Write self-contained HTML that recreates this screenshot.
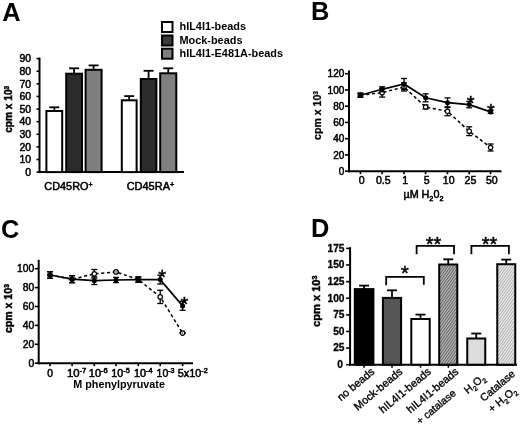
<!DOCTYPE html>
<html><head><meta charset="utf-8"><title>Figure</title>
<style>
html,body{margin:0;padding:0;background:#fff;}
body{width:520px;height:424px;overflow:hidden;font-family:"Liberation Sans",Arial,sans-serif;}
svg{display:block;will-change:transform;}
svg text{fill:#000;}
</style></head><body>
<svg width="520" height="424" viewBox="0 0 520 424" font-family="Liberation Sans, Arial, sans-serif">
<rect width="520" height="424" fill="#fff"/>
<text x="2.2" y="20.6" font-size="25.4" text-anchor="start" font-weight="bold" >A</text>
<text x="311.0" y="20.1" font-size="25.4" text-anchor="start" font-weight="bold" >B</text>
<text x="1.1" y="237.7" font-size="25.4" text-anchor="start" font-weight="bold" >C</text>
<text x="310.9" y="237.0" font-size="25.4" text-anchor="start" font-weight="bold" >D</text>
<line x1="39.5" y1="57.6" x2="39.5" y2="173.1" stroke="#000" stroke-width="2" />
<line x1="38.5" y1="172.1" x2="184" y2="172.1" stroke="#000" stroke-width="2" />
<line x1="36.5" y1="172.1" x2="39.5" y2="172.1" stroke="#000" stroke-width="1.6" />
<text x="31.2" y="175.9" font-size="10.5" text-anchor="end" stroke="#000" stroke-width="0.5">0</text>
<line x1="36.5" y1="159.49" x2="39.5" y2="159.49" stroke="#000" stroke-width="1.6" />
<text x="31.2" y="163.29000000000002" font-size="10.5" text-anchor="end" stroke="#000" stroke-width="0.5">10</text>
<line x1="36.5" y1="146.88" x2="39.5" y2="146.88" stroke="#000" stroke-width="1.6" />
<text x="31.2" y="150.68" font-size="10.5" text-anchor="end" stroke="#000" stroke-width="0.5">20</text>
<line x1="36.5" y1="134.26999999999998" x2="39.5" y2="134.26999999999998" stroke="#000" stroke-width="1.6" />
<text x="31.2" y="138.07" font-size="10.5" text-anchor="end" stroke="#000" stroke-width="0.5">30</text>
<line x1="36.5" y1="121.66" x2="39.5" y2="121.66" stroke="#000" stroke-width="1.6" />
<text x="31.2" y="125.46" font-size="10.5" text-anchor="end" stroke="#000" stroke-width="0.5">40</text>
<line x1="36.5" y1="109.05" x2="39.5" y2="109.05" stroke="#000" stroke-width="1.6" />
<text x="31.2" y="112.85" font-size="10.5" text-anchor="end" stroke="#000" stroke-width="0.5">50</text>
<line x1="36.5" y1="96.44" x2="39.5" y2="96.44" stroke="#000" stroke-width="1.6" />
<text x="31.2" y="100.24" font-size="10.5" text-anchor="end" stroke="#000" stroke-width="0.5">60</text>
<line x1="36.5" y1="83.83" x2="39.5" y2="83.83" stroke="#000" stroke-width="1.6" />
<text x="31.2" y="87.63" font-size="10.5" text-anchor="end" stroke="#000" stroke-width="0.5">70</text>
<line x1="36.5" y1="71.22" x2="39.5" y2="71.22" stroke="#000" stroke-width="1.6" />
<text x="31.2" y="75.02" font-size="10.5" text-anchor="end" stroke="#000" stroke-width="0.5">80</text>
<line x1="36.5" y1="58.61" x2="39.5" y2="58.61" stroke="#000" stroke-width="1.6" />
<text x="31.2" y="62.41" font-size="10.5" text-anchor="end" stroke="#000" stroke-width="0.5">90</text>
<text x="12.3" y="132.8" font-size="11" text-anchor="start" font-weight="bold" textLength="47" lengthAdjust="spacingAndGlyphs" transform="rotate(-90 12.3 132.8)" stroke="#000" stroke-width="0.45">cpm x 10<tspan font-size="7" dy="-3.5">3</tspan></text>
<line x1="54.3" y1="107.3" x2="54.3" y2="111.0" stroke="#000" stroke-width="1.8" />
<line x1="49.3" y1="107.3" x2="59.3" y2="107.3" stroke="#000" stroke-width="1.8" />
<rect x="46.4" y="111.0" width="15.800000000000004" height="61.099999999999994" fill="#fff" stroke="#000" stroke-width="2"/>
<line x1="74.1" y1="68.3" x2="74.1" y2="73.7" stroke="#000" stroke-width="1.8" />
<line x1="69.1" y1="68.3" x2="79.1" y2="68.3" stroke="#000" stroke-width="1.8" />
<rect x="66.2" y="73.7" width="15.799999999999997" height="98.39999999999999" fill="#2b2b2b" stroke="#000" stroke-width="2"/>
<line x1="93.6" y1="65.4" x2="93.6" y2="69.8" stroke="#000" stroke-width="1.8" />
<line x1="88.6" y1="65.4" x2="98.6" y2="65.4" stroke="#000" stroke-width="1.8" />
<rect x="85.6" y="69.8" width="16.0" height="102.3" fill="#7f7f7f" stroke="#000" stroke-width="2"/>
<line x1="129.2" y1="96.1" x2="129.2" y2="100.3" stroke="#000" stroke-width="1.8" />
<line x1="124.19999999999999" y1="96.1" x2="134.2" y2="96.1" stroke="#000" stroke-width="1.8" />
<rect x="121.8" y="100.3" width="14.799999999999997" height="71.8" fill="#fff" stroke="#000" stroke-width="2"/>
<line x1="148.60000000000002" y1="70.8" x2="148.60000000000002" y2="79.0" stroke="#000" stroke-width="1.8" />
<line x1="143.60000000000002" y1="70.8" x2="153.60000000000002" y2="70.8" stroke="#000" stroke-width="1.8" />
<rect x="140.8" y="79.0" width="15.599999999999994" height="93.1" fill="#2b2b2b" stroke="#000" stroke-width="2"/>
<line x1="168.25" y1="68.3" x2="168.25" y2="73.3" stroke="#000" stroke-width="1.8" />
<line x1="163.25" y1="68.3" x2="173.25" y2="68.3" stroke="#000" stroke-width="1.8" />
<rect x="160.2" y="73.3" width="16.100000000000023" height="98.8" fill="#7f7f7f" stroke="#000" stroke-width="2"/>
<text x="44.3" y="190.2" font-size="10.6" text-anchor="start" textLength="48.4" lengthAdjust="spacingAndGlyphs" stroke="#000" stroke-width="0.5">CD45RO<tspan font-size="7" dy="-3">+</tspan></text>
<text x="126.7" y="190.2" font-size="10.6" text-anchor="start" textLength="47.5" lengthAdjust="spacingAndGlyphs" stroke="#000" stroke-width="0.5">CD45RA<tspan font-size="7" dy="-3">+</tspan></text>
<rect x="162" y="22" width="10.5" height="10" fill="#fff" stroke="#000" stroke-width="2"/>
<rect x="162" y="35.5" width="10.5" height="10" fill="#3a3a3a" stroke="#000" stroke-width="2"/>
<rect x="162" y="48.7" width="10.5" height="10" fill="#7f7f7f" stroke="#000" stroke-width="2"/>
<text x="179.5" y="30.3" font-size="10.9" text-anchor="start" font-weight="bold" >hIL4I1-beads</text>
<text x="179.5" y="43.6" font-size="10.9" text-anchor="start" font-weight="bold" >Mock-beads</text>
<text x="179.5" y="56.8" font-size="10.9" text-anchor="start" font-weight="bold" >hIL4I1-E481A-beads</text>
<line x1="349" y1="70.5" x2="349" y2="172.2" stroke="#000" stroke-width="2" />
<line x1="348" y1="171.2" x2="501.5" y2="171.2" stroke="#000" stroke-width="2" />
<line x1="345" y1="171.2" x2="349" y2="171.2" stroke="#000" stroke-width="1.6" />
<text x="344.3" y="174.79999999999998" font-size="10" text-anchor="end" stroke="#000" stroke-width="0.5">0</text>
<line x1="345" y1="154.95" x2="349" y2="154.95" stroke="#000" stroke-width="1.6" />
<text x="344.3" y="158.54999999999998" font-size="10" text-anchor="end" stroke="#000" stroke-width="0.5">20</text>
<line x1="345" y1="138.7" x2="349" y2="138.7" stroke="#000" stroke-width="1.6" />
<text x="344.3" y="142.29999999999998" font-size="10" text-anchor="end" stroke="#000" stroke-width="0.5">40</text>
<line x1="345" y1="122.44999999999999" x2="349" y2="122.44999999999999" stroke="#000" stroke-width="1.6" />
<text x="344.3" y="126.04999999999998" font-size="10" text-anchor="end" stroke="#000" stroke-width="0.5">60</text>
<line x1="345" y1="106.19999999999999" x2="349" y2="106.19999999999999" stroke="#000" stroke-width="1.6" />
<text x="344.3" y="109.79999999999998" font-size="10" text-anchor="end" stroke="#000" stroke-width="0.5">80</text>
<line x1="345" y1="89.94999999999999" x2="349" y2="89.94999999999999" stroke="#000" stroke-width="1.6" />
<text x="344.3" y="93.54999999999998" font-size="10" text-anchor="end" stroke="#000" stroke-width="0.5">100</text>
<line x1="345" y1="73.69999999999999" x2="349" y2="73.69999999999999" stroke="#000" stroke-width="1.6" />
<text x="344.3" y="77.29999999999998" font-size="10" text-anchor="end" stroke="#000" stroke-width="0.5">120</text>
<text x="321.4" y="139.9" font-size="11" text-anchor="start" font-weight="bold" textLength="49" lengthAdjust="spacingAndGlyphs" transform="rotate(-90 321.4 139.9)" stroke="#000" stroke-width="0.25">cpm x 10<tspan font-size="7" dy="-3.5">3</tspan></text>
<line x1="360.4" y1="171.2" x2="360.4" y2="174.2" stroke="#000" stroke-width="1.6" />
<line x1="382.1" y1="171.2" x2="382.1" y2="174.2" stroke="#000" stroke-width="1.6" />
<line x1="404.0" y1="171.2" x2="404.0" y2="174.2" stroke="#000" stroke-width="1.6" />
<line x1="425.6" y1="171.2" x2="425.6" y2="174.2" stroke="#000" stroke-width="1.6" />
<line x1="447.5" y1="171.2" x2="447.5" y2="174.2" stroke="#000" stroke-width="1.6" />
<line x1="469.2" y1="171.2" x2="469.2" y2="174.2" stroke="#000" stroke-width="1.6" />
<line x1="490.6" y1="171.2" x2="490.6" y2="174.2" stroke="#000" stroke-width="1.6" />
<text x="361.59999999999997" y="184.3" font-size="10.6" text-anchor="middle" stroke="#000" stroke-width="0.5">0</text>
<text x="383.3" y="184.3" font-size="10.6" text-anchor="middle" stroke="#000" stroke-width="0.5">0.5</text>
<text x="405.2" y="184.3" font-size="10.6" text-anchor="middle" stroke="#000" stroke-width="0.5">1</text>
<text x="426.8" y="184.3" font-size="10.6" text-anchor="middle" stroke="#000" stroke-width="0.5">5</text>
<text x="448.7" y="184.3" font-size="10.6" text-anchor="middle" stroke="#000" stroke-width="0.5">10</text>
<text x="470.4" y="184.3" font-size="10.6" text-anchor="middle" stroke="#000" stroke-width="0.5">25</text>
<text x="491.8" y="184.3" font-size="10.6" text-anchor="middle" stroke="#000" stroke-width="0.5">50</text>
<text x="403.5" y="197.5" font-size="10.3" text-anchor="start" textLength="40" lengthAdjust="spacingAndGlyphs" stroke="#000" stroke-width="0.5">µM H<tspan font-size="7" dy="3">2</tspan><tspan dy="-3">0</tspan><tspan font-size="7" dy="3">2</tspan></text>
<polyline points="360.4,95.2 382.1,92.7 404.0,87.0 425.6,107.0 447.5,111.3 469.2,131.2 490.6,147.5" fill="none" stroke="#000" stroke-width="1.5" stroke-dasharray="3.2,2.6"/>
<line x1="360.4" y1="93.2" x2="360.4" y2="97.2" stroke="#000" stroke-width="1.3" />
<line x1="357.4" y1="93.2" x2="363.4" y2="93.2" stroke="#000" stroke-width="1.3" />
<line x1="357.4" y1="97.2" x2="363.4" y2="97.2" stroke="#000" stroke-width="1.3" />
<circle cx="360.4" cy="95.2" r="2.2" fill="#fff" stroke="#000" stroke-width="1.2"/>
<line x1="382.1" y1="88.3" x2="382.1" y2="97.10000000000001" stroke="#000" stroke-width="1.3" />
<line x1="379.1" y1="88.3" x2="385.1" y2="88.3" stroke="#000" stroke-width="1.3" />
<line x1="379.1" y1="97.10000000000001" x2="385.1" y2="97.10000000000001" stroke="#000" stroke-width="1.3" />
<circle cx="382.1" cy="92.7" r="2.2" fill="#fff" stroke="#000" stroke-width="1.2"/>
<line x1="404.0" y1="83.0" x2="404.0" y2="91.0" stroke="#000" stroke-width="1.3" />
<line x1="401.0" y1="83.0" x2="407.0" y2="83.0" stroke="#000" stroke-width="1.3" />
<line x1="401.0" y1="91.0" x2="407.0" y2="91.0" stroke="#000" stroke-width="1.3" />
<circle cx="404.0" cy="87.0" r="2.2" fill="#fff" stroke="#000" stroke-width="1.2"/>
<line x1="425.6" y1="105.0" x2="425.6" y2="109.0" stroke="#000" stroke-width="1.3" />
<line x1="422.6" y1="105.0" x2="428.6" y2="105.0" stroke="#000" stroke-width="1.3" />
<line x1="422.6" y1="109.0" x2="428.6" y2="109.0" stroke="#000" stroke-width="1.3" />
<circle cx="425.6" cy="107.0" r="2.2" fill="#fff" stroke="#000" stroke-width="1.2"/>
<line x1="447.5" y1="106.89999999999999" x2="447.5" y2="115.7" stroke="#000" stroke-width="1.3" />
<line x1="444.5" y1="106.89999999999999" x2="450.5" y2="106.89999999999999" stroke="#000" stroke-width="1.3" />
<line x1="444.5" y1="115.7" x2="450.5" y2="115.7" stroke="#000" stroke-width="1.3" />
<circle cx="447.5" cy="111.3" r="2.2" fill="#fff" stroke="#000" stroke-width="1.2"/>
<line x1="469.2" y1="126.79999999999998" x2="469.2" y2="135.6" stroke="#000" stroke-width="1.3" />
<line x1="466.2" y1="126.79999999999998" x2="472.2" y2="126.79999999999998" stroke="#000" stroke-width="1.3" />
<line x1="466.2" y1="135.6" x2="472.2" y2="135.6" stroke="#000" stroke-width="1.3" />
<circle cx="469.2" cy="131.2" r="2.2" fill="#fff" stroke="#000" stroke-width="1.2"/>
<line x1="490.6" y1="144.0" x2="490.6" y2="151.0" stroke="#000" stroke-width="1.3" />
<line x1="487.6" y1="144.0" x2="493.6" y2="144.0" stroke="#000" stroke-width="1.3" />
<line x1="487.6" y1="151.0" x2="493.6" y2="151.0" stroke="#000" stroke-width="1.3" />
<circle cx="490.6" cy="147.5" r="2.2" fill="#fff" stroke="#000" stroke-width="1.2"/>
<polyline points="360.4,95.2 382.1,89.3 404.0,84.0 425.6,97.8 447.5,102.7 469.2,104.6 490.6,111.9" fill="none" stroke="#000" stroke-width="1.7" />
<line x1="360.4" y1="93.2" x2="360.4" y2="97.2" stroke="#000" stroke-width="1.3" />
<line x1="357.4" y1="93.2" x2="363.4" y2="93.2" stroke="#000" stroke-width="1.3" />
<line x1="357.4" y1="97.2" x2="363.4" y2="97.2" stroke="#000" stroke-width="1.3" />
<circle cx="360.4" cy="95.2" r="2.5" fill="#000"/>
<line x1="382.1" y1="86.8" x2="382.1" y2="91.8" stroke="#000" stroke-width="1.3" />
<line x1="379.1" y1="86.8" x2="385.1" y2="86.8" stroke="#000" stroke-width="1.3" />
<line x1="379.1" y1="91.8" x2="385.1" y2="91.8" stroke="#000" stroke-width="1.3" />
<circle cx="382.1" cy="89.3" r="2.5" fill="#000"/>
<line x1="404.0" y1="78.5" x2="404.0" y2="89.5" stroke="#000" stroke-width="1.3" />
<line x1="401.0" y1="78.5" x2="407.0" y2="78.5" stroke="#000" stroke-width="1.3" />
<line x1="401.0" y1="89.5" x2="407.0" y2="89.5" stroke="#000" stroke-width="1.3" />
<circle cx="404.0" cy="84.0" r="2.5" fill="#000"/>
<line x1="425.6" y1="93.8" x2="425.6" y2="101.8" stroke="#000" stroke-width="1.3" />
<line x1="422.6" y1="93.8" x2="428.6" y2="93.8" stroke="#000" stroke-width="1.3" />
<line x1="422.6" y1="101.8" x2="428.6" y2="101.8" stroke="#000" stroke-width="1.3" />
<circle cx="425.6" cy="97.8" r="2.5" fill="#000"/>
<line x1="447.5" y1="97.9" x2="447.5" y2="107.5" stroke="#000" stroke-width="1.3" />
<line x1="444.5" y1="97.9" x2="450.5" y2="97.9" stroke="#000" stroke-width="1.3" />
<line x1="444.5" y1="107.5" x2="450.5" y2="107.5" stroke="#000" stroke-width="1.3" />
<circle cx="447.5" cy="102.7" r="2.5" fill="#000"/>
<line x1="469.2" y1="101.39999999999999" x2="469.2" y2="107.8" stroke="#000" stroke-width="1.3" />
<line x1="466.2" y1="101.39999999999999" x2="472.2" y2="101.39999999999999" stroke="#000" stroke-width="1.3" />
<line x1="466.2" y1="107.8" x2="472.2" y2="107.8" stroke="#000" stroke-width="1.3" />
<circle cx="469.2" cy="104.6" r="2.5" fill="#000"/>
<line x1="490.6" y1="110.4" x2="490.6" y2="113.4" stroke="#000" stroke-width="1.3" />
<line x1="487.6" y1="110.4" x2="493.6" y2="110.4" stroke="#000" stroke-width="1.3" />
<line x1="487.6" y1="113.4" x2="493.6" y2="113.4" stroke="#000" stroke-width="1.3" />
<circle cx="490.6" cy="111.9" r="2.5" fill="#000"/>
<text x="470.6" y="110.3" font-size="20" text-anchor="middle" stroke="#000" stroke-width="0.45">*</text>
<text x="491.0" y="118.2" font-size="20" text-anchor="middle" stroke="#000" stroke-width="0.45">*</text>
<line x1="38.7" y1="259.8" x2="38.7" y2="364.2" stroke="#000" stroke-width="2" />
<line x1="37.7" y1="363.2" x2="193" y2="363.2" stroke="#000" stroke-width="2" />
<line x1="34.7" y1="363.2" x2="38.7" y2="363.2" stroke="#000" stroke-width="1.6" />
<text x="34.3" y="366.8" font-size="10.3" text-anchor="end" stroke="#000" stroke-width="0.5">0</text>
<line x1="34.7" y1="344.3" x2="38.7" y2="344.3" stroke="#000" stroke-width="1.6" />
<text x="34.3" y="347.90000000000003" font-size="10.3" text-anchor="end" stroke="#000" stroke-width="0.5">20</text>
<line x1="34.7" y1="325.4" x2="38.7" y2="325.4" stroke="#000" stroke-width="1.6" />
<text x="34.3" y="329.0" font-size="10.3" text-anchor="end" stroke="#000" stroke-width="0.5">40</text>
<line x1="34.7" y1="306.5" x2="38.7" y2="306.5" stroke="#000" stroke-width="1.6" />
<text x="34.3" y="310.1" font-size="10.3" text-anchor="end" stroke="#000" stroke-width="0.5">60</text>
<line x1="34.7" y1="287.6" x2="38.7" y2="287.6" stroke="#000" stroke-width="1.6" />
<text x="34.3" y="291.20000000000005" font-size="10.3" text-anchor="end" stroke="#000" stroke-width="0.5">80</text>
<line x1="34.7" y1="268.7" x2="38.7" y2="268.7" stroke="#000" stroke-width="1.6" />
<text x="34.3" y="272.3" font-size="10.3" text-anchor="end" stroke="#000" stroke-width="0.5">100</text>
<text x="12.2" y="333.1" font-size="11" text-anchor="start" font-weight="bold" textLength="49" lengthAdjust="spacingAndGlyphs" transform="rotate(-90 12.2 333.1)" stroke="#000" stroke-width="0.45">cpm x 10<tspan font-size="7" dy="-3.5">3</tspan></text>
<line x1="50" y1="363.2" x2="50" y2="366.2" stroke="#000" stroke-width="1.6" />
<line x1="72.1" y1="363.2" x2="72.1" y2="366.2" stroke="#000" stroke-width="1.6" />
<line x1="94.3" y1="363.2" x2="94.3" y2="366.2" stroke="#000" stroke-width="1.6" />
<line x1="116.0" y1="363.2" x2="116.0" y2="366.2" stroke="#000" stroke-width="1.6" />
<line x1="138.3" y1="363.2" x2="138.3" y2="366.2" stroke="#000" stroke-width="1.6" />
<line x1="160.2" y1="363.2" x2="160.2" y2="366.2" stroke="#000" stroke-width="1.6" />
<line x1="182.6" y1="363.2" x2="182.6" y2="366.2" stroke="#000" stroke-width="1.6" />
<text x="50.2" y="376.8" font-size="10.3" text-anchor="middle" stroke="#000" stroke-width="0.5">0</text>
<text x="66.9" y="376.8" font-size="10.3" text-anchor="start" textLength="19.4" lengthAdjust="spacingAndGlyphs" stroke="#000" stroke-width="0.5">10<tspan font-size="7" dy="-3.5">-7</tspan></text>
<text x="88.8" y="376.8" font-size="10.3" text-anchor="start" textLength="19.0" lengthAdjust="spacingAndGlyphs" stroke="#000" stroke-width="0.5">10<tspan font-size="7" dy="-3.5">-6</tspan></text>
<text x="111.3" y="376.8" font-size="10.3" text-anchor="start" textLength="18.4" lengthAdjust="spacingAndGlyphs" stroke="#000" stroke-width="0.5">10<tspan font-size="7" dy="-3.5">-5</tspan></text>
<text x="133.9" y="376.8" font-size="10.3" text-anchor="start" textLength="18.7" lengthAdjust="spacingAndGlyphs" stroke="#000" stroke-width="0.5">10<tspan font-size="7" dy="-3.5">-4</tspan></text>
<text x="156.6" y="376.8" font-size="10.3" text-anchor="start" textLength="18.0" lengthAdjust="spacingAndGlyphs" stroke="#000" stroke-width="0.5">10<tspan font-size="7" dy="-3.5">-3</tspan></text>
<text x="177.8" y="376.8" font-size="10.3" text-anchor="start" textLength="30" lengthAdjust="spacingAndGlyphs" stroke="#000" stroke-width="0.5">5x10<tspan font-size="7" dy="-3.5">-2</tspan></text>
<text x="73.3" y="388.2" font-size="10.8" text-anchor="start" font-weight="bold" textLength="91.6" lengthAdjust="spacingAndGlyphs" >M phenylpyruvate</text>
<polyline points="50,275.0 72.1,279.2 94.3,273.8 116.0,271.9 138.3,279.6 160.2,296.9 182.6,333.1" fill="none" stroke="#000" stroke-width="1.5" stroke-dasharray="3.2,2.6"/>
<line x1="50" y1="271.7" x2="50" y2="278.3" stroke="#000" stroke-width="1.3" />
<line x1="47" y1="271.7" x2="53" y2="271.7" stroke="#000" stroke-width="1.3" />
<line x1="47" y1="278.3" x2="53" y2="278.3" stroke="#000" stroke-width="1.3" />
<circle cx="50" cy="275.0" r="2.2" fill="#fff" stroke="#000" stroke-width="1.2"/>
<line x1="72.1" y1="275.7" x2="72.1" y2="282.7" stroke="#000" stroke-width="1.3" />
<line x1="69.1" y1="275.7" x2="75.1" y2="275.7" stroke="#000" stroke-width="1.3" />
<line x1="69.1" y1="282.7" x2="75.1" y2="282.7" stroke="#000" stroke-width="1.3" />
<circle cx="72.1" cy="279.2" r="2.2" fill="#fff" stroke="#000" stroke-width="1.2"/>
<line x1="94.3" y1="269.5" x2="94.3" y2="278.1" stroke="#000" stroke-width="1.3" />
<line x1="91.3" y1="269.5" x2="97.3" y2="269.5" stroke="#000" stroke-width="1.3" />
<line x1="91.3" y1="278.1" x2="97.3" y2="278.1" stroke="#000" stroke-width="1.3" />
<circle cx="94.3" cy="273.8" r="2.2" fill="#fff" stroke="#000" stroke-width="1.2"/>
<line x1="116.0" y1="271.9" x2="116.0" y2="271.9" stroke="#000" stroke-width="1.3" />
<line x1="113.0" y1="271.9" x2="119.0" y2="271.9" stroke="#000" stroke-width="1.3" />
<line x1="113.0" y1="271.9" x2="119.0" y2="271.9" stroke="#000" stroke-width="1.3" />
<circle cx="116.0" cy="271.9" r="2.2" fill="#fff" stroke="#000" stroke-width="1.2"/>
<line x1="138.3" y1="276.90000000000003" x2="138.3" y2="282.3" stroke="#000" stroke-width="1.3" />
<line x1="135.3" y1="276.90000000000003" x2="141.3" y2="276.90000000000003" stroke="#000" stroke-width="1.3" />
<line x1="135.3" y1="282.3" x2="141.3" y2="282.3" stroke="#000" stroke-width="1.3" />
<circle cx="138.3" cy="279.6" r="2.2" fill="#fff" stroke="#000" stroke-width="1.2"/>
<line x1="160.2" y1="290.29999999999995" x2="160.2" y2="303.5" stroke="#000" stroke-width="1.3" />
<line x1="157.2" y1="290.29999999999995" x2="163.2" y2="290.29999999999995" stroke="#000" stroke-width="1.3" />
<line x1="157.2" y1="303.5" x2="163.2" y2="303.5" stroke="#000" stroke-width="1.3" />
<circle cx="160.2" cy="296.9" r="2.2" fill="#fff" stroke="#000" stroke-width="1.2"/>
<line x1="182.6" y1="333.1" x2="182.6" y2="333.1" stroke="#000" stroke-width="1.3" />
<line x1="179.6" y1="333.1" x2="185.6" y2="333.1" stroke="#000" stroke-width="1.3" />
<line x1="179.6" y1="333.1" x2="185.6" y2="333.1" stroke="#000" stroke-width="1.3" />
<circle cx="182.6" cy="333.1" r="2.2" fill="#fff" stroke="#000" stroke-width="1.2"/>
<polyline points="50,275.0 72.1,279.2 94.3,280.7 116.0,280.0 138.3,279.6 160.2,279.6 182.6,305.9" fill="none" stroke="#000" stroke-width="1.7" />
<line x1="50" y1="271.7" x2="50" y2="278.3" stroke="#000" stroke-width="1.3" />
<line x1="47" y1="271.7" x2="53" y2="271.7" stroke="#000" stroke-width="1.3" />
<line x1="47" y1="278.3" x2="53" y2="278.3" stroke="#000" stroke-width="1.3" />
<circle cx="50" cy="275.0" r="2.5" fill="#000"/>
<line x1="72.1" y1="275.7" x2="72.1" y2="282.7" stroke="#000" stroke-width="1.3" />
<line x1="69.1" y1="275.7" x2="75.1" y2="275.7" stroke="#000" stroke-width="1.3" />
<line x1="69.1" y1="282.7" x2="75.1" y2="282.7" stroke="#000" stroke-width="1.3" />
<circle cx="72.1" cy="279.2" r="2.5" fill="#000"/>
<line x1="94.3" y1="276.9" x2="94.3" y2="284.5" stroke="#000" stroke-width="1.3" />
<line x1="91.3" y1="276.9" x2="97.3" y2="276.9" stroke="#000" stroke-width="1.3" />
<line x1="91.3" y1="284.5" x2="97.3" y2="284.5" stroke="#000" stroke-width="1.3" />
<circle cx="94.3" cy="280.7" r="2.5" fill="#000"/>
<line x1="116.0" y1="277.4" x2="116.0" y2="282.6" stroke="#000" stroke-width="1.3" />
<line x1="113.0" y1="277.4" x2="119.0" y2="277.4" stroke="#000" stroke-width="1.3" />
<line x1="113.0" y1="282.6" x2="119.0" y2="282.6" stroke="#000" stroke-width="1.3" />
<circle cx="116.0" cy="280.0" r="2.5" fill="#000"/>
<line x1="138.3" y1="276.90000000000003" x2="138.3" y2="282.3" stroke="#000" stroke-width="1.3" />
<line x1="135.3" y1="276.90000000000003" x2="141.3" y2="276.90000000000003" stroke="#000" stroke-width="1.3" />
<line x1="135.3" y1="282.3" x2="141.3" y2="282.3" stroke="#000" stroke-width="1.3" />
<circle cx="138.3" cy="279.6" r="2.5" fill="#000"/>
<line x1="160.2" y1="275.20000000000005" x2="160.2" y2="284.0" stroke="#000" stroke-width="1.3" />
<line x1="157.2" y1="275.20000000000005" x2="163.2" y2="275.20000000000005" stroke="#000" stroke-width="1.3" />
<line x1="157.2" y1="284.0" x2="163.2" y2="284.0" stroke="#000" stroke-width="1.3" />
<circle cx="160.2" cy="279.6" r="2.5" fill="#000"/>
<line x1="182.6" y1="301.5" x2="182.6" y2="310.29999999999995" stroke="#000" stroke-width="1.3" />
<line x1="179.6" y1="301.5" x2="185.6" y2="301.5" stroke="#000" stroke-width="1.3" />
<line x1="179.6" y1="310.29999999999995" x2="185.6" y2="310.29999999999995" stroke="#000" stroke-width="1.3" />
<circle cx="182.6" cy="305.9" r="2.5" fill="#000"/>
<circle cx="116.0" cy="271.9" r="0.7" fill="#000"/><circle cx="182.6" cy="333.1" r="0.7" fill="#000"/>
<text x="162.2" y="284.2" font-size="20" text-anchor="middle" stroke="#000" stroke-width="0.45">*</text>
<text x="184.4" y="310.9" font-size="20" text-anchor="middle" stroke="#000" stroke-width="0.45">*</text>
<defs>
<pattern id="h1" width="2.2" height="2.2" patternUnits="userSpaceOnUse" patternTransform="rotate(-55)"><rect width="2.2" height="2.2" fill="#c0c0c0"/><rect width="2.2" height="1.0" fill="#5a5a5a"/></pattern>
<pattern id="h2" width="2.2" height="2.2" patternUnits="userSpaceOnUse" patternTransform="rotate(-55)"><rect width="2.2" height="2.2" fill="#ececec"/><rect width="2.2" height="0.9" fill="#aaa"/></pattern>
</defs>
<line x1="350.1" y1="247.2" x2="350.1" y2="365.7" stroke="#000" stroke-width="2" />
<line x1="349.1" y1="364.7" x2="517" y2="364.7" stroke="#000" stroke-width="2" />
<line x1="346.1" y1="364.7" x2="350.1" y2="364.7" stroke="#000" stroke-width="1.6" />
<text x="342.8" y="368.09999999999997" font-size="10.2" text-anchor="end" font-weight="bold" stroke="#000" stroke-width="0.3">0</text>
<line x1="346.1" y1="348.085" x2="350.1" y2="348.085" stroke="#000" stroke-width="1.6" />
<text x="344.5" y="351.48499999999996" font-size="10.2" text-anchor="end" font-weight="bold" stroke="#000" stroke-width="0.3">25</text>
<line x1="346.1" y1="331.46999999999997" x2="350.1" y2="331.46999999999997" stroke="#000" stroke-width="1.6" />
<text x="344.5" y="334.86999999999995" font-size="10.2" text-anchor="end" font-weight="bold" stroke="#000" stroke-width="0.3">50</text>
<line x1="346.1" y1="314.855" x2="350.1" y2="314.855" stroke="#000" stroke-width="1.6" />
<text x="344.5" y="318.255" font-size="10.2" text-anchor="end" font-weight="bold" stroke="#000" stroke-width="0.3">75</text>
<line x1="346.1" y1="298.24" x2="350.1" y2="298.24" stroke="#000" stroke-width="1.6" />
<text x="344.5" y="301.64" font-size="10.2" text-anchor="end" font-weight="bold" stroke="#000" stroke-width="0.3">100</text>
<line x1="346.1" y1="281.625" x2="350.1" y2="281.625" stroke="#000" stroke-width="1.6" />
<text x="344.5" y="285.025" font-size="10.2" text-anchor="end" font-weight="bold" stroke="#000" stroke-width="0.3">125</text>
<line x1="346.1" y1="265.01" x2="350.1" y2="265.01" stroke="#000" stroke-width="1.6" />
<text x="344.5" y="268.40999999999997" font-size="10.2" text-anchor="end" font-weight="bold" stroke="#000" stroke-width="0.3">150</text>
<line x1="346.1" y1="248.39499999999998" x2="350.1" y2="248.39499999999998" stroke="#000" stroke-width="1.6" />
<text x="344.5" y="251.795" font-size="10.2" text-anchor="end" font-weight="bold" stroke="#000" stroke-width="0.3">175</text>
<text x="320.2" y="327.0" font-size="11" text-anchor="start" font-weight="bold" textLength="51.5" lengthAdjust="spacingAndGlyphs" transform="rotate(-90 320.2 327.0)" stroke="#000" stroke-width="0.45">cpm x 10<tspan font-size="7" dy="-3.5">3</tspan></text>
<line x1="364.1" y1="364.7" x2="364.1" y2="367.7" stroke="#000" stroke-width="1.6" />
<line x1="392.0" y1="364.7" x2="392.0" y2="367.7" stroke="#000" stroke-width="1.6" />
<line x1="420.5" y1="364.7" x2="420.5" y2="367.7" stroke="#000" stroke-width="1.6" />
<line x1="448.4" y1="364.7" x2="448.4" y2="367.7" stroke="#000" stroke-width="1.6" />
<line x1="364.1" y1="285.6" x2="364.1" y2="289.1" stroke="#000" stroke-width="1.8" />
<line x1="359.1" y1="285.6" x2="369.1" y2="285.6" stroke="#000" stroke-width="1.8" />
<rect x="354.8" y="289.1" width="18.599999999999966" height="75.59999999999997" fill="#000" stroke="#000" stroke-width="2"/>
<line x1="392.0" y1="290.3" x2="392.0" y2="297.9" stroke="#000" stroke-width="1.8" />
<line x1="387.0" y1="290.3" x2="397.0" y2="290.3" stroke="#000" stroke-width="1.8" />
<rect x="382.9" y="297.9" width="18.200000000000045" height="66.80000000000001" fill="#555" stroke="#000" stroke-width="2"/>
<line x1="420.5" y1="314.6" x2="420.5" y2="319.0" stroke="#000" stroke-width="1.8" />
<line x1="415.5" y1="314.6" x2="425.5" y2="314.6" stroke="#000" stroke-width="1.8" />
<rect x="411.3" y="319.0" width="18.399999999999977" height="45.69999999999999" fill="#fff" stroke="#000" stroke-width="2"/>
<line x1="448.25" y1="259.3" x2="448.25" y2="264.5" stroke="#000" stroke-width="1.8" />
<line x1="443.25" y1="259.3" x2="453.25" y2="259.3" stroke="#000" stroke-width="1.8" />
<rect x="439.2" y="264.5" width="18.100000000000023" height="100.19999999999999" fill="url(#h1)" stroke="#000" stroke-width="2"/>
<line x1="476.25" y1="333.5" x2="476.25" y2="338.5" stroke="#000" stroke-width="1.8" />
<line x1="471.25" y1="333.5" x2="481.25" y2="333.5" stroke="#000" stroke-width="1.8" />
<rect x="467.25" y="338.5" width="18.0" height="26.19999999999999" fill="#dcdcdc" stroke="#000" stroke-width="2"/>
<line x1="506.25" y1="259.6" x2="506.25" y2="264.2" stroke="#000" stroke-width="1.8" />
<line x1="501.25" y1="259.6" x2="511.25" y2="259.6" stroke="#000" stroke-width="1.8" />
<rect x="497.25" y="264.2" width="18.0" height="100.5" fill="url(#h2)" stroke="#000" stroke-width="2"/>
<polyline points="386.2,285.2 386.2,276.8 423.8,276.8 423.8,284.8" fill="none" stroke="#000" stroke-width="1.8"/>
<polyline points="416.6,254.2 416.6,245.8 454.0,245.8 454.0,254.2" fill="none" stroke="#000" stroke-width="1.8"/>
<polyline points="471.4,254.2 471.4,245.8 508.9,245.8 508.9,254.2" fill="none" stroke="#000" stroke-width="1.8"/>
<text x="404.8" y="279.5" font-size="20" text-anchor="middle" stroke="#000" stroke-width="0.45">*</text>
<text x="433.5" y="250.6" font-size="20" text-anchor="middle" stroke="#000" stroke-width="0.45">**</text>
<text x="489.6" y="250.6" font-size="20" text-anchor="middle" stroke="#000" stroke-width="0.45">**</text>
<text x="375.3" y="372.8" font-size="10.9" text-anchor="end" transform="rotate(-40 375.3 372.8)" stroke="#000" stroke-width="0.35">no beads</text>
<text x="403.3" y="372.8" font-size="10.9" text-anchor="end" transform="rotate(-40 403.3 372.8)" stroke="#000" stroke-width="0.35">Mock-beads</text>
<text x="431.8" y="372.8" font-size="10.9" text-anchor="end" transform="rotate(-40 431.8 372.8)" stroke="#000" stroke-width="0.35">hIL4I1-beads</text>
<text x="459.3" y="372.8" font-size="10.9" text-anchor="end" transform="rotate(-40 459.3 372.8)" stroke="#000" stroke-width="0.35">hIL4I1-beads</text>
<text x="456.6" y="394.4" font-size="10.4" text-anchor="end" transform="rotate(-40 456.6 394.4)" stroke="#000" stroke-width="0.35">+ catalase</text>
<text x="485.8" y="379.0" font-size="10.6" text-anchor="end" transform="rotate(-40 485.8 379.0)" stroke="#000" stroke-width="0.35">H<tspan font-size="7" dy="3">2</tspan><tspan dy="-3">O</tspan><tspan font-size="7" dy="3">2</tspan></text>
<text x="515.8" y="375.0" font-size="10.6" text-anchor="end" transform="rotate(-40 515.8 375.0)" stroke="#000" stroke-width="0.35">Catalase</text>
<text x="517.2" y="391.8" font-size="10.6" text-anchor="end" transform="rotate(-40 517.2 391.8)" stroke="#000" stroke-width="0.35">+ H<tspan font-size="7" dy="3">2</tspan><tspan dy="-3">O</tspan><tspan font-size="7" dy="3">2</tspan></text>
</svg>
</body></html>
